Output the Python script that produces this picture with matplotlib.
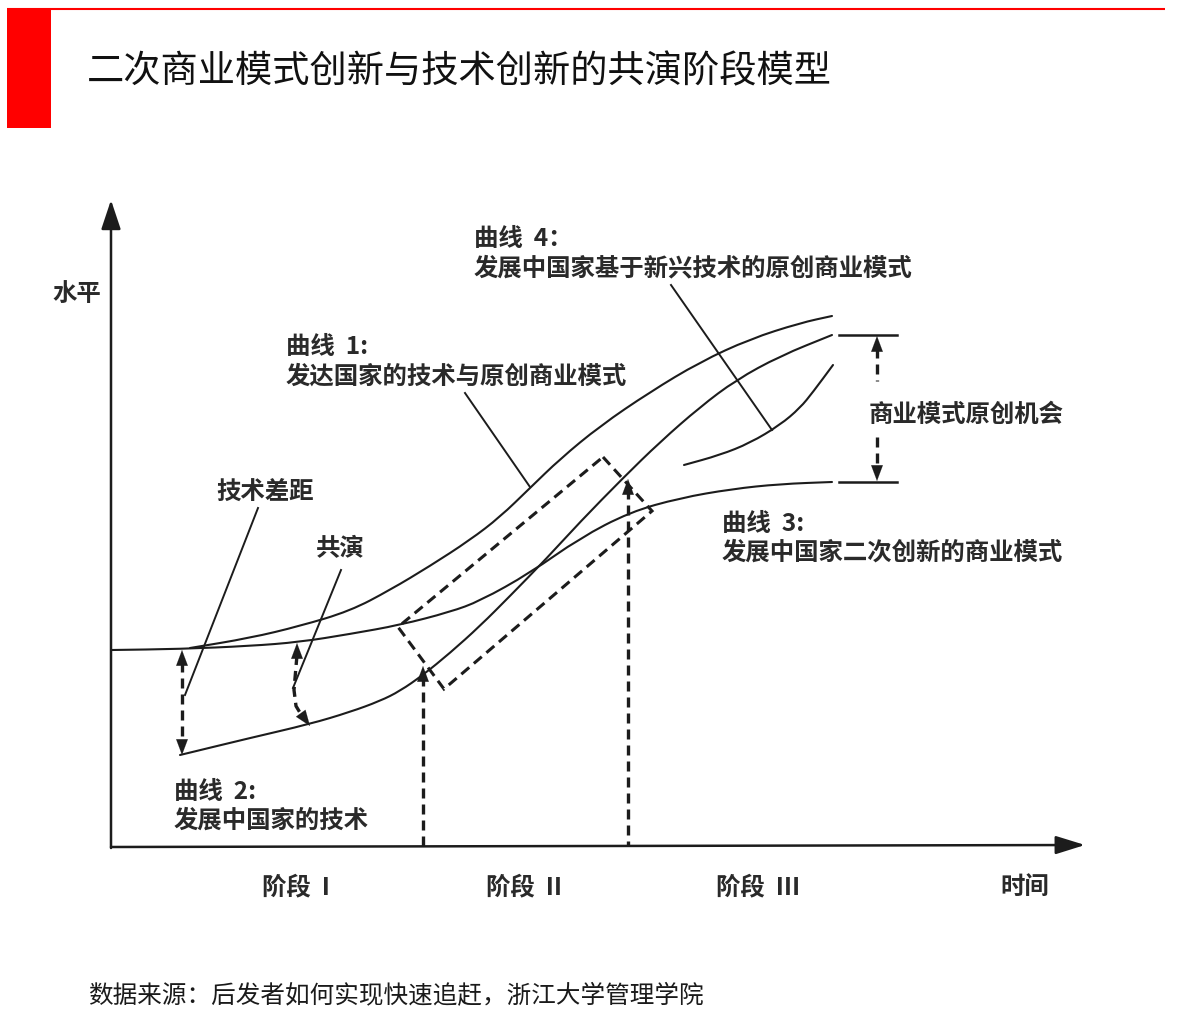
import matplotlib
matplotlib.use("Agg")
import matplotlib.pyplot as plt
from matplotlib.patches import Rectangle, Polygon, PathPatch
from matplotlib.path import Path

plt.rcParams['font.family'] = ['Noto Sans CJK SC', 'DejaVu Sans']

# ---------------- data (picture frame: time -> right, level -> down in pixels) -------------
title = "二次商业模式创新与技术创新的共演阶段模型"
source = "数据来源：后发者如何实现快速追赶，浙江大学管理学院"

# curve 1: developed countries' technology & original business model
curve1_t = [190, 250, 300, 350, 390, 430, 470, 500, 530, 560, 600, 650, 700, 750, 800, 832]
curve1_v = [648, 638, 626, 611, 590, 566, 540, 517, 488, 459, 426, 392, 362, 339, 323, 316]
# curve 2: developing countries' technology
curve2_t = [180, 250, 310, 350, 380, 400, 423, 450, 480, 510, 547, 580, 623, 660, 700, 736, 780, 832]
curve2_v = [755, 738, 724, 712, 701, 691, 675, 653, 626, 596, 558, 522, 478, 442, 407, 380, 356, 335]
# curve 3: developing countries' secondary-innovation business model
curve3_t = [112, 180, 250, 300, 350, 400, 450, 480, 530, 580, 630, 680, 732, 780, 832]
curve3_v = [650, 649, 646, 642, 634, 625, 612, 601, 573, 538, 512, 498, 489, 484, 482]
# curve 4: original business model based on emerging tech
curve4_t = [684, 720, 750, 780, 800, 813, 833]
curve4_v = [465, 455, 443, 425, 408, 392, 365]

# dashed co-evolution box corners
box_t = [603, 652, 444, 398]
box_v = [457, 511, 689, 627]

stage_labels = ["阶段  I", "阶段  II", "阶段  III"]
stage_label_t = [262, 486, 716]
stage_bounds_t = [423, 628]
stage_bounds_top = [666, 479]

INK = "#1c1c1c"
TXT = "#2a2a2a"

fig = plt.figure(figsize=(11.82, 10.29), dpi=100)
ax = fig.add_axes([0, 0, 1, 1])
ax.set_xlim(0, 1182)
ax.set_ylim(1029, 0)
ax.axis('off')

# ---------------- header ----------------
ax.add_patch(Rectangle((7, 8), 44, 120, facecolor='#FF0000', edgecolor='none'))
ax.plot([7, 1165], [8.5, 8.5], color='#FF0000', lw=1.5, solid_capstyle='butt')
ax.text(87, 72, title, fontsize=26.8, ha='left', va='center', color='#111111')
ax.text(88, 995, source, fontsize=17.7, ha='left', va='center', color='#1a1a1a')

# ---------------- axes ----------------
ax.annotate('', xy=(111, 200), xytext=(111, 848),
            arrowprops=dict(arrowstyle='-|>,head_length=0.9,head_width=0.3', lw=1.8,
                            color=INK, shrinkA=0, shrinkB=0, mutation_scale=20))
ax.annotate('', xy=(1085, 845), xytext=(111, 847),
            arrowprops=dict(arrowstyle='-|>,head_length=0.9,head_width=0.28', lw=1.8,
                            color=INK, shrinkA=0, shrinkB=0, mutation_scale=20))


def smooth_curve(t, v, lw=1.5):
    pts = list(zip(t, v))
    verts = [pts[0]]
    codes = [Path.MOVETO]
    mid = ((pts[0][0] + pts[1][0]) / 2, (pts[0][1] + pts[1][1]) / 2)
    verts.append(mid)
    codes.append(Path.LINETO)
    for i in range(1, len(pts) - 1):
        nxt = ((pts[i][0] + pts[i + 1][0]) / 2, (pts[i][1] + pts[i + 1][1]) / 2)
        verts += [pts[i], nxt]
        codes += [Path.CURVE3, Path.CURVE3]
    verts.append(pts[-1])
    codes.append(Path.LINETO)
    ax.add_patch(PathPatch(Path(verts, codes), fill=False, edgecolor=INK, lw=lw,
                           capstyle='round', joinstyle='round'))


# ---------------- curves ----------------
for t, v in [(curve1_t, curve1_v), (curve2_t, curve2_v), (curve3_t, curve3_v), (curve4_t, curve4_v)]:
    smooth_curve(t, v)

# dashed box
ax.add_patch(Polygon(list(zip(box_t, box_v)), closed=True, fill=False, edgecolor=INK,
                     lw=2.2, linestyle=(0, (3.4, 2.0))))

DASH = (0, (3.0, 1.8))


def head(tip, frm, size=14):
    ax.annotate('', xy=tip, xytext=frm,
                arrowprops=dict(arrowstyle='-|>,head_length=0.8,head_width=0.3', lw=0.1,
                                color=INK, shrinkA=0, shrinkB=0, mutation_scale=size))


# stage boundaries
for bt, top in zip(stage_bounds_t, stage_bounds_top):
    ax.plot([bt, bt], [top + 10, 846], color=INK, lw=2.4, linestyle=DASH)
    head((bt, top), (bt, top + 14))

# 技术差距 arrow
ax.plot([182, 182], [662, 744], color=INK, lw=2.4, linestyle=DASH)
head((182, 650), (182, 664))
head((182, 755), (182, 741))

# 共演 arrow
ax.plot([297, 294, 296, 302], [655, 690, 706, 716], color=INK, lw=2.4, linestyle=DASH)
head((297, 643), (297, 657))
head((310, 726), (302, 715))

# bracket for 商业模式原创机会
ax.plot([839, 897], [335, 335], color=INK, lw=1.8)
ax.plot([839, 897], [482, 482], color=INK, lw=1.8)
ax.plot([877, 877], [348, 381], color=INK, lw=2.4, linestyle=DASH)
ax.plot([877, 877], [437, 470], color=INK, lw=2.4, linestyle=DASH)
head((877, 336), (877, 350))
head((877, 481), (877, 467))

# leader lines
for (a, b) in [((258, 508), (185, 695)), ((341, 570), (293, 688)),
               ((465, 393), (530, 487)), ((671, 285), (772, 430))]:
    ax.plot([a[0], b[0]], [a[1], b[1]], color=INK, lw=1.4)

# ---------------- labels ----------------
FS = 17.6
labels = [
    (474, 239, "曲线  4："),
    (474, 268, "发展中国家基于新兴技术的原创商业模式"),
    (286, 347, "曲线  1:"),
    (286, 377, "发达国家的技术与原创商业模式"),
    (869, 415, "商业模式原创机会"),
    (216, 492, "技术差距"),
    (316, 549, "共演"),
    (722, 524, "曲线  3:"),
    (722, 553, "发展中国家二次创新的商业模式"),
    (174, 792, "曲线  2:"),
    (174, 821, "发展中国家的技术"),
    (52, 294, "水平"),
    (1000, 887, "时间"),
]
for x, y, s in labels:
    ax.text(x, y, s, fontsize=FS, ha='left', va='center', color=TXT, fontweight='bold')
for x, s in zip(stage_label_t, stage_labels):
    ax.text(x, 887, s, fontsize=FS, ha='left', va='center', color=TXT, fontweight='bold')

fig.savefig("out.png", dpi=100)
